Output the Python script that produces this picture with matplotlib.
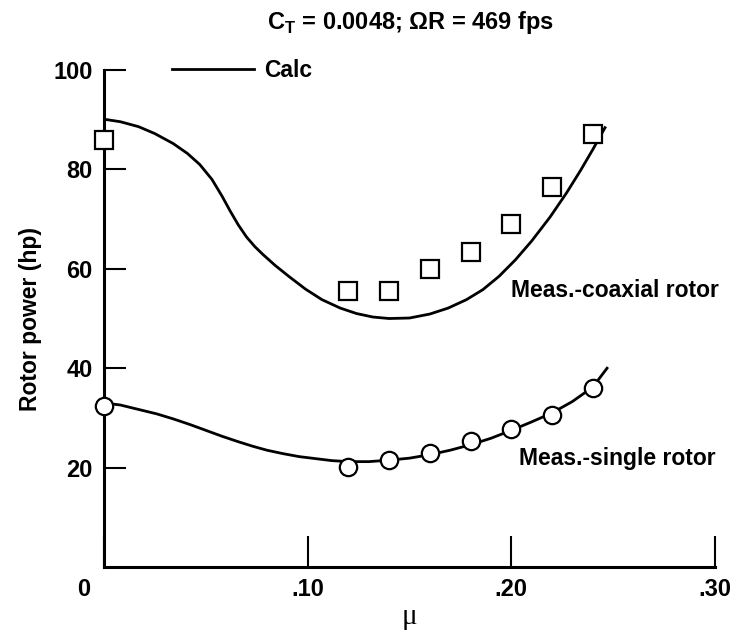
import matplotlib
matplotlib.use("Agg")
import matplotlib.pyplot as plt
import matplotlib.transforms as mtransforms

plt.rcParams['font.family'] = ['Liberation Sans', 'DejaVu Sans']
plt.rcParams['font.weight'] = 'bold'
plt.rcParams['axes.labelweight'] = 'bold'
plt.rcParams['mathtext.fontset'] = 'custom'
plt.rcParams['mathtext.bf'] = 'Liberation Sans:bold'
plt.rcParams['mathtext.rm'] = 'Liberation Sans:bold'

# measured points
mu_meas = [0.0, 0.12, 0.14, 0.16, 0.18, 0.20, 0.22, 0.24]
coax_meas = [85.9, 55.6, 55.6, 59.9, 63.4, 69.1, 76.4, 87.2]
single_meas = [32.4, 20.2, 21.5, 23.0, 25.4, 27.8, 30.6, 36.0]

# calculated curves
mu_coax_calc = [0.0, 0.008, 0.017, 0.025, 0.034, 0.041, 0.047, 0.053, 0.058,
                0.062, 0.066, 0.070, 0.074, 0.078, 0.084, 0.091, 0.099, 0.107,
                0.116, 0.124, 0.132, 0.140, 0.150, 0.160, 0.169, 0.178,
                0.186, 0.194, 0.202, 0.210, 0.219, 0.227, 0.234, 0.240, 0.246]
coax_calc = [90.1, 89.6, 88.6, 87.2, 85.2, 83.2, 81.0, 78.0, 74.6,
             71.6, 68.8, 66.4, 64.5, 62.9, 60.7, 58.4, 55.9, 53.8,
             52.1, 51.0, 50.3, 50.0, 50.1, 50.9, 52.1, 53.8,
             55.8, 58.5, 61.8, 65.6, 70.4, 75.2, 79.8, 84.0, 88.4]

mu_single_calc = [0.0, 0.008, 0.017, 0.026, 0.034, 0.042, 0.050, 0.058,
                  0.066, 0.073, 0.080, 0.088, 0.096, 0.104, 0.112, 0.120,
                  0.130, 0.140, 0.150, 0.160, 0.170, 0.180, 0.190, 0.200,
                  0.210, 0.220, 0.230, 0.240, 0.247]
single_calc = [33.0, 32.6, 31.7, 30.8, 29.8, 28.7, 27.5, 26.3,
               25.2, 24.3, 23.5, 22.8, 22.2, 21.8, 21.4, 21.2,
               21.2, 21.5, 21.9, 22.6, 23.5, 24.6, 25.9, 27.5,
               29.2, 31.0, 33.3, 36.2, 40.0]

xticks = [0.0, 0.10, 0.20, 0.30]
xtick_labels = ['0', '.10', '.20', '.30']
yticks = [20, 40, 60, 80, 100]

fig = plt.figure(figsize=(7.39, 6.36), dpi=100)
ax = fig.add_axes([0.1407, 0.1085, 0.8268, 0.7814])

ax.plot(mu_coax_calc, coax_calc, color='black', lw=2.0, label='Calc', zorder=2)
ax.plot(mu_single_calc, single_calc, color='black', lw=2.0, zorder=2)
ax.plot(mu_meas, coax_meas, 's', ms=12.5, mfc='white', mec='black', mew=1.6,
        clip_on=False, zorder=3)
ax.plot(mu_meas, single_meas, 'o', ms=12.5, mfc='white', mec='black', mew=1.6,
        clip_on=False, zorder=3)

ax.set_xlim(0, 0.30)
ax.set_ylim(0, 100)

ax.spines['top'].set_visible(False)
ax.spines['right'].set_visible(False)
ax.spines['left'].set_linewidth(2.2)
ax.spines['bottom'].set_linewidth(2.2)

ax.set_xticks(xticks)
ax.set_xticklabels(xtick_labels)
ax.set_yticks(yticks)
ax.tick_params(axis='x', direction='in', length=22, width=1.5, pad=8, labelsize=17)
ax.tick_params(axis='y', direction='in', length=16, width=1.5, pad=8, labelsize=17)

# "0" label sits left of the corner
lab0 = ax.get_xticklabels()[0]
lab0.set_ha('right')
lab0.set_transform(lab0.get_transform() +
                   mtransforms.ScaledTranslation(-14 / 100, 0, fig.dpi_scale_trans))

ax.set_ylabel('Rotor power (hp)', fontsize=16.5, labelpad=8)
ax.set_xlabel('μ', fontsize=21, family='Liberation Serif', fontweight='normal',
              labelpad=2)

fig.text(0.555, 0.965, r'C$_{\mathbf{T}}$ = 0.0048; ΩR = 469 fps',
         fontsize=17, ha='center', va='center')

ax.legend(loc='center left', bbox_to_anchor=(0.111, 1.0), frameon=False,
          handlelength=3.6, handletextpad=0.45, borderpad=0, borderaxespad=0,
          fontsize=16.5)

ax.text(0.2, 55.7, 'Meas.-coaxial rotor', fontsize=16.5, va='center')
ax.text(0.204, 21.9, 'Meas.-single rotor', fontsize=16.5, va='center')

fig.savefig('out.png', dpi=100)
